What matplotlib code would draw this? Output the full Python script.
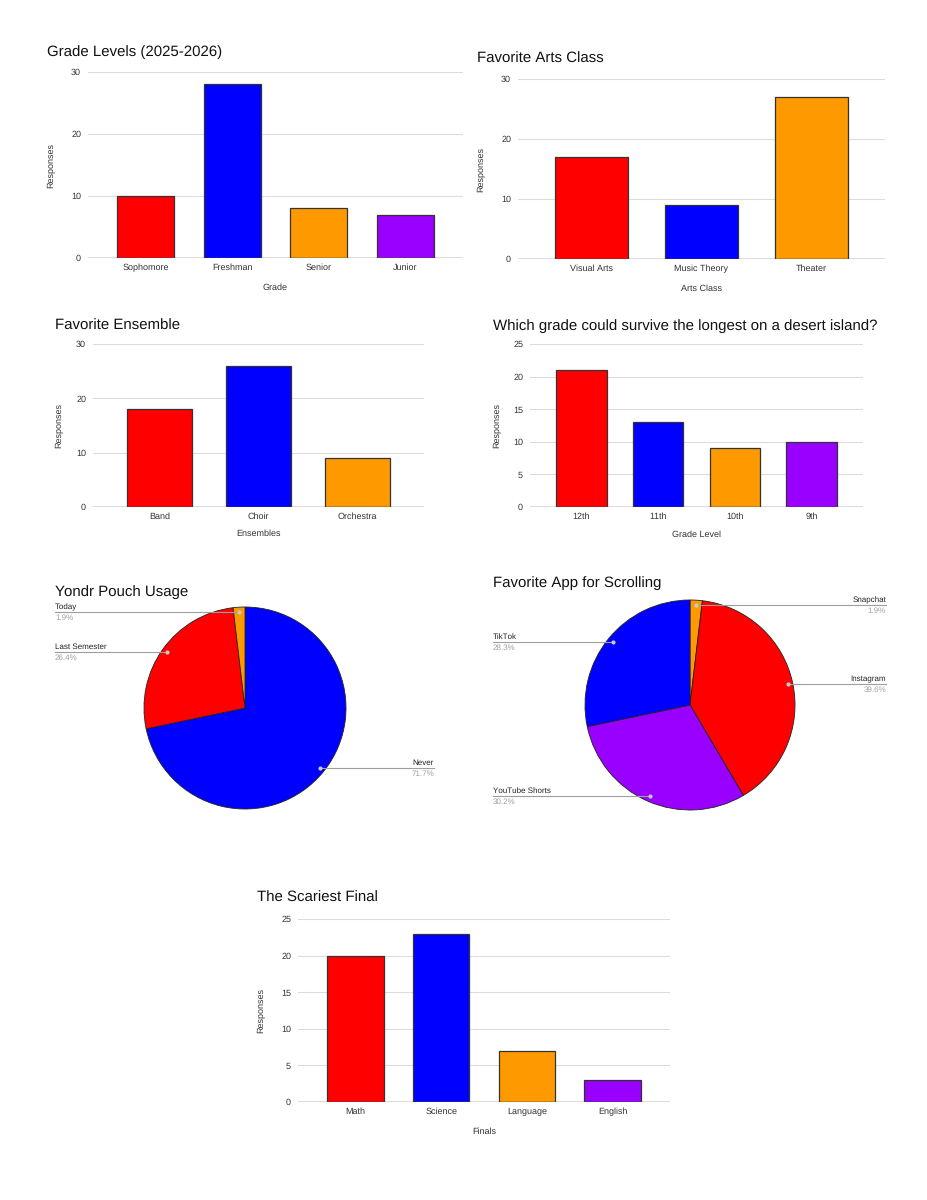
import numpy as np
import matplotlib
matplotlib.use('Agg')
import matplotlib.pyplot as plt

plt.rcParams['font.family'] = ['Liberation Sans', 'DejaVu Sans']
plt.rcParams['text.hinting'] = 'no_hinting'
plt.rcParams['text.hinting_factor'] = 1

# ── data ────────────────────────────────────────────────
grade_levels = ['Sophomore', 'Freshman', 'Senior', 'Junior']
grade_counts = [10, 28, 8, 7]

arts_classes = ['Visual Arts', 'Music Theory', 'Theater']
arts_counts = [17, 9, 27]

ensembles = ['Band', 'Choir', 'Orchestra']
ensemble_counts = [18, 26, 9]

island_grades = ['12th', '11th', '10th', '9th']
island_counts = [21, 13, 9, 10]

yondr_labels = ['Never', 'Last Semester', 'Today']
yondr_counts = [38, 14, 1]

app_labels = ['Snapchat', 'Instagram', 'YouTube Shorts', 'TikTok']
app_counts = [1, 21, 16, 15]

finals = ['Math', 'Science', 'Language', 'English']
final_counts = [20, 23, 7, 3]

RED, BLUE, ORANGE, PURPLE = '#FF0000', '#0000FF', '#FF9900', '#9900FF'
BAR_COLORS = [RED, BLUE, ORANGE, PURPLE]

W, H = 927, 1200
fig = plt.figure(figsize=(W / 100, H / 100), dpi=100)


def px_axes(l, t, r, b):
    return fig.add_axes([l / W, 1 - b / H, (r - l) / W, (b - t) / H])


def fig_text(x, y, s, **kw):
    fig.text(x / W, 1 - y / H, s, **kw)


def bar_chart(rect, title, title_xy, cats, vals, ymax, ystep, xlabel, ylabel_x, xlabel_y):
    ax = px_axes(*rect)
    x = np.arange(len(cats))
    ax.bar(x, vals, width=0.66, color=BAR_COLORS[:len(cats)],
           edgecolor='#333333', linewidth=0.9, zorder=3)
    ax.set_xlim(-0.67, len(cats) - 0.33)
    ax.set_ylim(0, ymax)
    ax.set_yticks(np.arange(0, ymax + 1, ystep))
    ax.set_xticks(x, cats)
    ax.grid(axis='y', color='#dcdcdc', linewidth=0.8, zorder=0)
    for s in ax.spines.values():
        s.set_visible(False)
    ax.axhline(0, color='#555555', linewidth=1.0, zorder=4)
    ax.tick_params(axis='both', length=0, labelsize=6.5, labelcolor='#333333')
    ax.tick_params(axis='x', pad=4)
    ax.tick_params(axis='y', pad=5)
    fig_text(*title_xy, title, ha='left', va='center', fontsize=10.7, color='#111111')
    fig_text(ylabel_x, (rect[1] + rect[3]) / 2, 'Responses', rotation=90,
             ha='center', va='center', fontsize=6.5, color='#333333')
    fig_text((rect[0] + rect[2]) / 2, xlabel_y, xlabel, ha='center', va='center',
             fontsize=6.5, color='#333333')
    return ax


def pie_chart(center, radius, title, title_xy, labels, vals, colors, left_x, right_x):
    cx, cy = center
    ax = px_axes(cx - radius, cy - radius, cx + radius, cy + radius)
    wedges, _ = ax.pie(vals, colors=colors, startangle=90, counterclock=False,
                       wedgeprops=dict(edgecolor='#222222', linewidth=0.6))
    ax.set_xlim(-1, 1)
    ax.set_ylim(-1, 1)
    total = sum(vals)
    for w, lab, v in zip(wedges, labels, vals):
        mid = np.deg2rad((w.theta1 + w.theta2) / 2)
        px, py = 0.95 * np.cos(mid), 0.95 * np.sin(mid)
        if px < 0:
            tx, ha = (left_x - cx) / radius, 'left'
        else:
            tx, ha = (right_x - cx) / radius, 'right'
        ax.plot([px, tx], [py, py], color='#9e9e9e', linewidth=0.8, clip_on=False, zorder=5)
        ax.plot(px, py, 'o', ms=2, color='#c8c8c8', clip_on=False, zorder=6)
        ax.text(tx, py + 0.015, lab, ha=ha, va='bottom', fontsize=6,
                color='#222222', clip_on=False)
        ax.text(tx, py - 0.02, f'{v / total * 100:.1f}%', ha=ha, va='top',
                fontsize=6, color='#a0a0a0', clip_on=False)
    fig_text(*title_xy, title, ha='left', va='center', fontsize=10.7, color='#111111')
    return ax


bar_chart((88, 72, 463, 258), 'Grade Levels (2025-2026)', (47, 52),
          grade_levels, grade_counts, 30, 10, 'Grade', 51, 288)
bar_chart((518, 79, 885, 259), 'Favorite Arts Class', (477, 59),
          arts_classes, arts_counts, 30, 10, 'Arts Class', 481, 289)
bar_chart((93, 344, 424, 507), 'Favorite Ensemble', (55, 326),
          ensembles, ensemble_counts, 30, 10, 'Ensembles', 59, 534)
bar_chart((530, 344, 863, 507), 'Which grade could survive the longest on a desert island?', (493, 326),
          island_grades, island_counts, 25, 5, 'Grade Level', 497, 535)

pie_chart((245, 708), 101, 'Yondr Pouch Usage', (55, 592),
          yondr_labels, yondr_counts, [BLUE, RED, ORANGE], 55, 434)
pie_chart((690, 705), 105, 'Favorite App for Scrolling', (493, 583),
          app_labels, app_counts, [ORANGE, RED, PURPLE, BLUE], 493, 886)

bar_chart((298, 919, 670, 1102), 'The Scariest Final', (257, 898),
          finals, final_counts, 25, 5, 'Finals', 261, 1132)

fig.savefig('out.png', dpi=100, facecolor='white')
plt.close(fig)
